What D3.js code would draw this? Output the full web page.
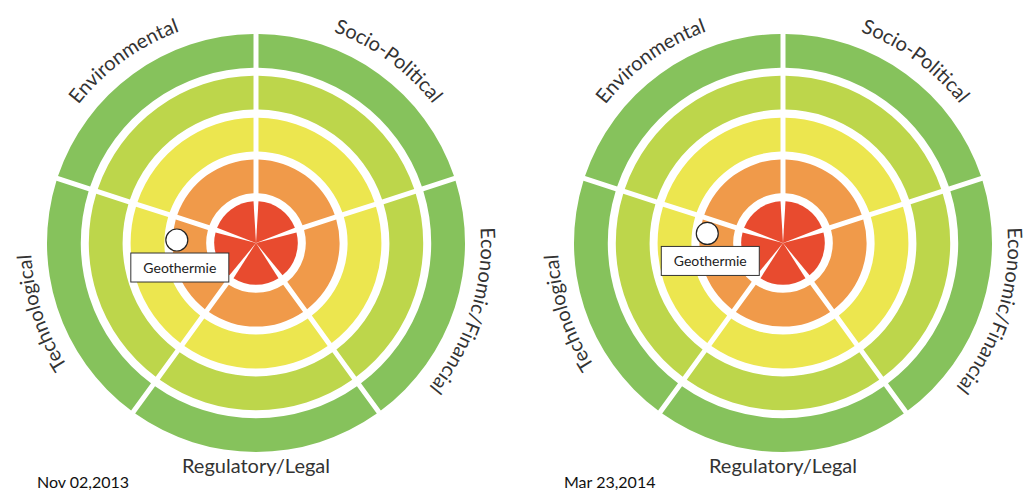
<!DOCTYPE html>
<html>
<head>
<meta charset="utf-8">
<script src="https://cdn.jsdelivr.net/npm/d3@7"></script>
<style>
  body { margin: 0; background: #fff; }
  svg { display: block; font-family: Lato, "Open Sans", sans-serif; }
</style>
</head>
<body>
<svg id="chart" width="1027" height="492"></svg>
<script>
// risk categories, clockwise from 12 o'clock
var categories = ["Socio-Political", "Economic/Financial", "Regulatory/Legal", "Technological", "Environmental"];
// risk rings, from the centre outward
var levels = [1, 2, 3, 4, 5];
var levelColors = ["#e84b2f", "#f09a4a", "#ece64f", "#bdd64b", "#86c25c"];

// one wheel per snapshot
var snapshots = ["Nov 02,2013", "Mar 23,2014"];
var markerNames = ["Geothermie", "Geothermie"];
var markerCategory = ["Technological", "Technological"];
var markerLevel = [1.8, 1.73];      // distance from centre, in ring units
var markerPos = [0.78, 0.85];       // position inside the sector, 0..1 clockwise

var svg = d3.select("#chart");
var centers = [256, 783], cy = 243;
var ringGap = 4;

var angle = d3.scaleBand().domain(categories).range([0, 2 * Math.PI]);
var radius = d3.scaleLinear().domain([0, levels.length]).range([4, 213]);

var arc = d3.arc()
  .innerRadius(d => d[1] === 1 ? 0 : radius(d[1] - 1) + ringGap)
  .outerRadius(d => radius(d[1]) - ringGap)
  .startAngle(d => angle(d[0]))
  .endAngle(d => angle(d[0]) + angle.bandwidth())
  .padAngle(0.05)
  .padRadius(100);

var labelR = 225;

snapshots.forEach((snap, w) => {
  var g = svg.append("g").attr("transform", `translate(${centers[w]},${cy})`);

  g.selectAll("path.cell")
    .data(d3.cross(categories, levels))
    .enter().append("path")
    .attr("class", "cell")
    .attr("d", arc)
    .attr("fill", d => levelColors[d[1] - 1]);

  // category labels along the outer rim
  categories.forEach((cat, i) => {
    var a0 = angle(cat), a1 = a0 + angle.bandwidth(), mid = (a0 + a1) / 2;
    if (Math.abs(mid - Math.PI) < 0.01) {
      g.append("text")
        .attr("x", 0).attr("y", 230)
        .attr("text-anchor", "middle")
        .attr("font-size", 20)
        .attr("fill", "#333")
        .text(cat);
      return;
    }
    var p = d3.path();
    p.arc(0, 0, labelR, a0 - Math.PI / 2, a1 - Math.PI / 2);
    var id = `lab-${w}-${i}`;
    g.append("path").attr("id", id).attr("d", p.toString()).attr("fill", "none");
    g.append("text")
      .attr("font-size", 20)
      .attr("fill", "#333")
      .append("textPath")
      .attr("href", "#" + id)
      .attr("startOffset", "50%")
      .attr("text-anchor", "middle")
      .text(cat);
  });

  // project marker
  var th = angle(markerCategory[w]) + markerPos[w] * angle.bandwidth();
  var rr = radius(markerLevel[w]);
  var mx = rr * Math.sin(th), my = -rr * Math.cos(th);
  g.append("circle")
    .attr("cx", mx).attr("cy", my).attr("r", 11)
    .attr("fill", "#fff").attr("stroke", "#222").attr("stroke-width", 1.2);
  g.append("rect")
    .attr("x", mx - 46).attr("y", my + 13)
    .attr("width", 98).attr("height", 29)
    .attr("fill", "#fff").attr("stroke", "#333").attr("stroke-width", 1);
  g.append("text")
    .attr("x", mx + 3).attr("y", my + 32.5)
    .attr("text-anchor", "middle")
    .attr("font-size", 14)
    .attr("fill", "#222")
    .text(markerNames[w]);

  // snapshot date
  svg.append("text")
    .attr("x", centers[w] - 219).attr("y", 488)
    .attr("font-size", 16)
    .attr("fill", "#111")
    .text(snap);
});
</script>
</body>
</html>
